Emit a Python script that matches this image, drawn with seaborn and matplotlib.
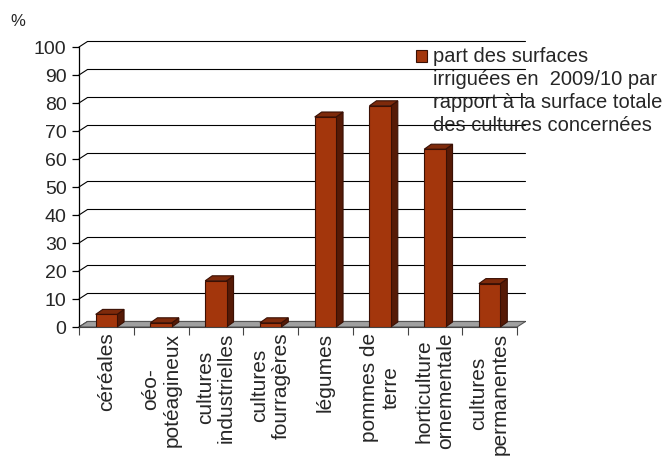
import matplotlib
matplotlib.use("Agg")
import matplotlib.pyplot as plt
from matplotlib.patches import Polygon, Rectangle
import seaborn as sns
import pandas as pd

# Data: share of irrigated area per crop group
categories = [
    "céréales",
    "oéo-\npotéagineux",
    "cultures\nindustrielles",
    "cultures\nfourragères",
    "légumes",
    "pommes de\nterre",
    "horticulture\nornementale",
    "cultures\npermanentes",
]
values = [4.5, 1.5, 16.5, 1.5, 75, 79, 63.5, 15.5]
y_ticks = list(range(0, 101, 10))
legend_label = ("part des surfaces\nirriguées en  2009/10 par\n"
                "rapport à la surface totale\ndes cultures concernées")

FRONT = "#a3360c"
TOP = "#7e2a0b"
SIDE = "#561a06"
EDGE = "#3a1004"
FLOOR = "#a0a0a0"

sns.set_style("white")
plt.rcParams["font.family"] = ["Liberation Sans", "DejaVu Sans"]

W, H = 668, 459
fig = plt.figure(figsize=(W / 100, H / 100), dpi=100)
left_px, right_px, zero_px, top_px = 79, 517, 327, 47
ax = fig.add_axes([left_px / W, 1 - zero_px / H,
                   (right_px - left_px) / W, (zero_px - top_px) / H])

df = pd.DataFrame({"cat": categories, "val": values})
sns.barplot(data=df, x="cat", y="val", color=FRONT, saturation=1,
            width=0.39, edgecolor=EDGE, linewidth=0.8, ax=ax, zorder=5)

ax.set_xlim(-0.5, len(categories) - 0.5)
ax.set_ylim(0, 100)

# pixel -> data conversions for the depth offsets
px_x = (len(categories)) / (right_px - left_px)
px_y = 100 / (zero_px - top_px)
wall_dx, wall_dy = 8.5 * px_x, 5.5 * px_y     # floor / back wall depth
bar_dx, bar_dy = 7.0 * px_x, 5.0 * px_y       # column depth

x_lo, x_hi = -0.5, len(categories) - 0.5

# back-wall gridlines with their side-wall diagonals
for v in y_ticks:
    ax.plot([x_lo, x_lo + wall_dx, x_hi + wall_dx],
            [v, v + wall_dy, v + wall_dy],
            color="black", lw=0.8, zorder=1, clip_on=False)

# floor
ax.add_patch(Polygon([(x_lo, 0), (x_hi, 0), (x_hi + wall_dx, wall_dy),
                      (x_lo + wall_dx, wall_dy)], closed=True,
                     facecolor=FLOOR, edgecolor="#555555", lw=0.8,
                     zorder=2, clip_on=False))

# 3D faces of each column, from the drawn bars
for bar in ax.patches:
    if not isinstance(bar, Rectangle):
        continue
    x0 = bar.get_x()
    x1 = x0 + bar.get_width()
    h = bar.get_height()
    ax.add_patch(Polygon([(x1, 0), (x1 + bar_dx, bar_dy),
                          (x1 + bar_dx, h + bar_dy), (x1, h)], closed=True,
                         facecolor=SIDE, edgecolor=EDGE, lw=0.8,
                         zorder=4, clip_on=False))
    ax.add_patch(Polygon([(x0, h), (x1, h), (x1 + bar_dx, h + bar_dy),
                          (x0 + bar_dx, h + bar_dy)], closed=True,
                         facecolor=TOP, edgecolor=EDGE, lw=0.8,
                         zorder=4, clip_on=False))

# axes
for s in ["top", "right"]:
    ax.spines[s].set_visible(False)
ax.spines["left"].set_color("black")
ax.spines["left"].set_linewidth(0.9)
ax.spines["bottom"].set_color("#444444")
ax.spines["bottom"].set_linewidth(0.8)
ax.spines["bottom"].set_zorder(3)

ax.set_yticks(y_ticks)
ax.set_yticklabels([str(t) for t in y_ticks], fontsize=14)
ax.tick_params(axis="y", left=True, length=5, width=0.9, pad=4,
               color="black")

ax.set_xticks(range(len(categories)))
ax.set_xticklabels(categories, rotation=90, fontsize=15,
                   va="top", ha="center", multialignment="center",
                   linespacing=1.15)
ax.set_xticks([i - 0.5 for i in range(len(categories) + 1)], minor=True)
ax.tick_params(axis="x", which="major", length=0, pad=4)
ax.tick_params(axis="x", which="minor", bottom=True, length=6, width=0.8,
               color="#444444")
ax.set_xlabel("")
ax.set_ylabel("")

fig.text(10 / W, 1 - 21 / H, "%", fontsize=12, va="center", ha="left")

# legend, handle lined up with the first line of its label
fs = 14.5
ls = 1.27
handle = Rectangle((0, 0), 1, 1, facecolor=FRONT, edgecolor=EDGE, lw=0.8)
leg = fig.legend([handle], [legend_label], loc="upper left",
                 bbox_to_anchor=(416 / W, 1 - 47 / H), frameon=False,
                 fontsize=fs, borderpad=0, borderaxespad=0,
                 handlelength=0.55, handleheight=0.5, handletextpad=0.3)
for t in leg.get_texts():
    t.set_linespacing(ls)
for hnd in leg.legend_handles:
    hnd.set_y(hnd.get_y() + 25.4)

fig.savefig("out.png", dpi=100)
